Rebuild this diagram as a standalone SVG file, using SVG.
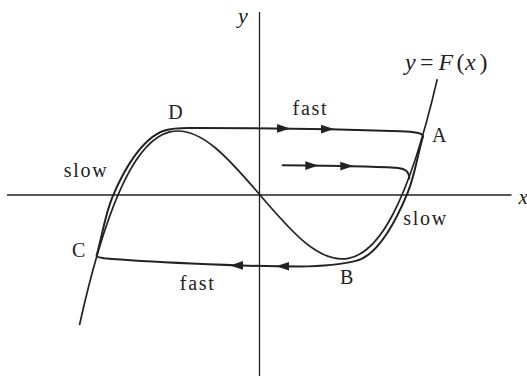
<svg xmlns="http://www.w3.org/2000/svg" xmlns:xlink="http://www.w3.org/1999/xlink" width="527" height="376" viewBox="0 0 527 376">
<style>
.ax{stroke:#222;stroke-width:1.3;fill:none}
.cv{stroke:#222;stroke-width:1.7;fill:none;stroke-linejoin:round;stroke-linecap:round}
.tr{stroke:#222;stroke-width:2;fill:none;stroke-linejoin:round;stroke-linecap:round}
.lb{font-family:"Liberation Serif","Times New Roman",serif;font-size:20px;fill:#222}
.sp{letter-spacing:1.7px}
.it{font-style:italic}
.ah{fill:#222}
</style>
<defs>
<path id="ah" d="M0,0 L-13,-4.3 L-13,4.3 Z"/>
</defs>
<rect width="527" height="376" fill="#fff"/>
<g id="axes">
<line class="ax" x1="7" y1="195" x2="511.5" y2="195"/>
<line class="ax" x1="259.5" y1="12" x2="259.5" y2="376"/>
</g>
<g id="nullcline">
<path class="cv" d="M79.6,324.5 C198.8,-211.3 317.9,591.3 437.1,79.9"/>
</g>
<g id="connectors">
<path id="limit-cycle" class="tr" d="M195,128 C260,128 350,129.5 400,131.3 C414,131.8 423.5,133 423,136.5 C417.4,155.2 415,175.1 407.5,193.1 C397.9,216.2 380.2,254.9 355.9,260.9 C341.4,264.5 318,266.3 300,266.5 C235,266.4 140,261.5 104,258.3 C99,257.6 96.6,257 96.6,255.5 C102.1,236.3 104.8,215.4 112.5,196.9 C122.1,173.8 140.85,138.25 164.6,130.5 C174.1,127.4 185,128 195,128 Z"/>
<path id="inner-trajectory" class="tr" d="M282.7,165.2 C330,165.6 380,166.4 398,168 C405,168.8 409,171 409.3,178.5"/>
<g class="ah">
<use xlink:href="#ah" transform="translate(290,128.4)"/>
<use xlink:href="#ah" transform="translate(334,129.1)"/>
<use xlink:href="#ah" transform="translate(318.3,165.6)"/>
<use xlink:href="#ah" transform="translate(353.3,166.1)"/>
<use xlink:href="#ah" transform="translate(230,265.4) rotate(180)"/>
<use xlink:href="#ah" transform="translate(276,266.2) rotate(180)"/>
</g>
</g>
<g id="labels">
<text class="lb sp" x="292.6" y="114.8">fast</text>
<text class="lb sp" x="179.8" y="289.5">fast</text>
<text class="lb sp" x="63.8" y="177">slow</text>
<text class="lb sp" x="403.3" y="225">slow</text>
<text class="lb" x="168.3" y="119.3">D</text>
<text class="lb" x="432" y="141.7">A</text>
<text class="lb" x="340" y="284.3">B</text>
<text class="lb" x="72" y="257">C</text>
<text class="lb it" x="238" y="23" style="font-size:22px">y</text>
<text class="lb it" x="518.5" y="204" style="font-size:21px">x</text>
<text class="lb" style="font-size:24px" y="69.5"><tspan class="it" x="405">y</tspan><tspan x="420">=</tspan><tspan class="it" x="438.5">F</tspan><tspan x="456.5">(</tspan><tspan class="it" x="465">x</tspan><tspan x="479.5">)</tspan></text>
</g>
</svg>
